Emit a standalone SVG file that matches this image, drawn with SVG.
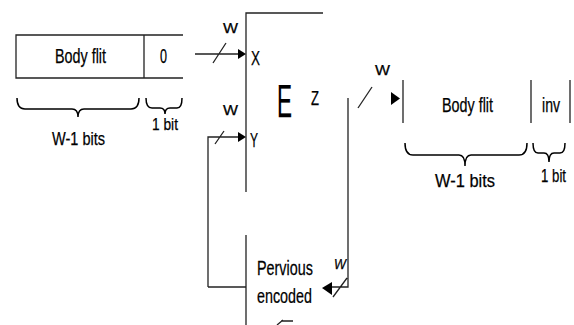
<svg xmlns="http://www.w3.org/2000/svg" width="574" height="325" viewBox="0 0 574 325">
<style>
.ln{stroke:#222;stroke-width:1.3;fill:none}
.br{stroke:#000;stroke-width:1.5;fill:none}
.t{font-family:"Liberation Sans",Arial,sans-serif;fill:#000;stroke:#000;stroke-width:0.25}
.ah{fill:#000}
</style>
<rect width="574" height="325" fill="#fff"/>
<g id="input-flit">
<path class="ln" d="M183,35 H16 V78 H183 M144,35 V78"/>
<text class="t" x="55" y="63" font-size="20" textLength="51" lengthAdjust="spacingAndGlyphs">Body flit</text>
<text class="t" x="160" y="63" font-size="21" textLength="7" lengthAdjust="spacingAndGlyphs">0</text>
<path class="br" d="M17,98 Q17,109 25,109 H72 Q78,109 78,117 Q78,109 84,109 H131 Q139,109 139,98"/>
<path class="br" d="M146,98 Q146,108 152,108 H160 Q165,108 165,114 Q165,108 170,108 H177 Q182,108 182,98"/>
<text class="t" x="52" y="145" font-size="19" textLength="53" lengthAdjust="spacingAndGlyphs">W-1 bits</text>
<text class="t" x="152" y="130" font-size="17" textLength="26" lengthAdjust="spacingAndGlyphs">1 bit</text>
</g>
<g id="encoder">
<path class="ln" d="M323,13 H246 V192 M246,235 V325"/>
<text class="t" x="277" y="117" font-size="47" textLength="15" lengthAdjust="spacingAndGlyphs">E</text>
<text class="t" x="311" y="105" font-size="20" textLength="8" lengthAdjust="spacingAndGlyphs">Z</text>
<text class="t" x="251" y="65" font-size="20" textLength="9" lengthAdjust="spacingAndGlyphs">X</text>
<text class="t" x="250" y="147" font-size="20" textLength="8" lengthAdjust="spacingAndGlyphs">Y</text>
</g>
<g id="previous-encoded">
<text class="t" transform="translate(257,275) scale(0.685,1)" font-size="21">Pervious</text>
<text class="t" transform="translate(257,303) scale(0.682,1)" font-size="21">encoded</text>
</g>
<g id="output-flit">
<path class="ln" d="M403,80 V123 M531,80 V123 M570,80 V123"/>
<text class="t" x="442" y="112" font-size="20" textLength="51" lengthAdjust="spacingAndGlyphs">Body flit</text>
<text class="t" x="542" y="112" font-size="20" textLength="18" lengthAdjust="spacingAndGlyphs">inv</text>
<path class="br" d="M405,143 Q405,155 413,155 H459 Q465,155 465,166 Q465,155 471,155 H519 Q527,155 527,143"/>
<path class="br" d="M533,143 Q533,153 538,153 H544 Q549,153 549,162 Q549,153 554,153 H560 Q565,153 565,143"/>
<text class="t" x="435" y="187" font-size="19" textLength="60" lengthAdjust="spacingAndGlyphs">W-1 bits</text>
<text class="t" x="541" y="182" font-size="18" textLength="25" lengthAdjust="spacingAndGlyphs">1 bit</text>
</g>
<g id="connectors">
<path class="ln" d="M195,54 H239 M213,63 L226,43"/>
<path class="ah" d="M238,49 L246,54 L238,59 Z"/>
<text class="t" x="223" y="33" font-size="15" textLength="15" lengthAdjust="spacingAndGlyphs">W</text>
<path class="ln" d="M208,287 V137 H239 M215,144 L224,131"/>
<path class="ln" d="M208,287 H246"/>
<path class="ah" d="M238,132 L246,137 L238,142 Z"/>
<text class="t" x="223" y="115" font-size="15" textLength="15" lengthAdjust="spacingAndGlyphs">W</text>
<path class="ln" d="M358,108 L372,87"/>
<path class="ah" d="M391,92 L400,98.5 L391,105 Z"/>
<text class="t" x="375" y="75" font-size="15" textLength="15" lengthAdjust="spacingAndGlyphs">W</text>
<path class="ln" d="M348,98 V287 H330 M333,297 L347,278"/>
<path class="ah" d="M332,282 L322,288 L332,295 Z"/>
<text class="t" x="334" y="269" font-size="15" font-style="italic" textLength="12" lengthAdjust="spacingAndGlyphs">W</text>
<path class="ln" d="M277,325 L283,320 M281,321 H293"/>
</g>
</svg>
